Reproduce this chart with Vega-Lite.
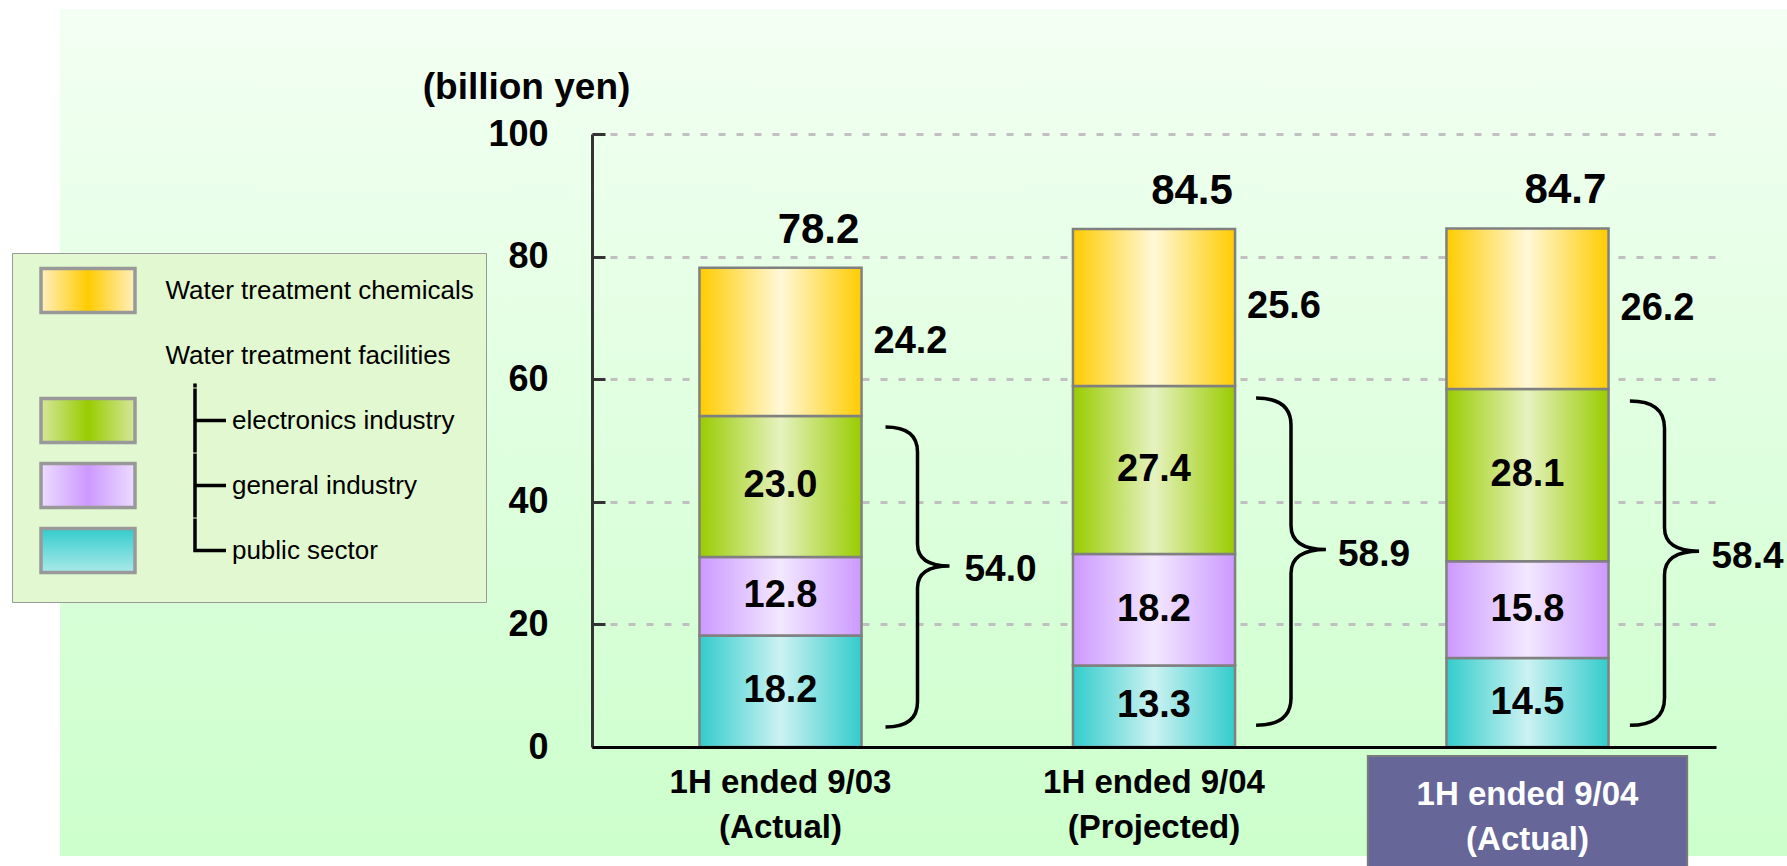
{
  "$schema": "https://vega.github.io/schema/vega-lite/v6.json",
  "width": 1727,
  "height": 847,
  "autosize": {"type": "none"},
  "padding": {"left": 60, "top": 9, "right": 0, "bottom": 10},
  "background": "#ffffff",
  "config": {
    "font": "Liberation Sans",
    "view": {
      "stroke": null,
      "fill": {"gradient": "linear", "x1": 0, "y1": 0, "x2": 0, "y2": 1, "stops": [{"offset": 0, "color": "#f3fff3"}, {"offset": 1, "color": "#ccffcc"}]}
    }
  },
  "datasets": {
    "segments": [
      {"period": "1H ended 9/03 (Actual)", "segment": "public sector", "value": 18.2},
      {"period": "1H ended 9/03 (Actual)", "segment": "general industry", "value": 12.8},
      {"period": "1H ended 9/03 (Actual)", "segment": "electronics industry", "value": 23.0},
      {"period": "1H ended 9/03 (Actual)", "segment": "Water treatment chemicals", "value": 24.2},
      {"period": "1H ended 9/04 (Projected)", "segment": "public sector", "value": 13.3},
      {"period": "1H ended 9/04 (Projected)", "segment": "general industry", "value": 18.2},
      {"period": "1H ended 9/04 (Projected)", "segment": "electronics industry", "value": 27.4},
      {"period": "1H ended 9/04 (Projected)", "segment": "Water treatment chemicals", "value": 25.6},
      {"period": "1H ended 9/04 (Actual)", "segment": "public sector", "value": 14.5},
      {"period": "1H ended 9/04 (Actual)", "segment": "general industry", "value": 15.8},
      {"period": "1H ended 9/04 (Actual)", "segment": "electronics industry", "value": 28.1},
      {"period": "1H ended 9/04 (Actual)", "segment": "Water treatment chemicals", "value": 26.2}
    ],
    "totals": [
      {"period": "1H ended 9/03 (Actual)", "total": 78.2, "facilities": 54.0},
      {"period": "1H ended 9/04 (Projected)", "total": 84.5, "facilities": 58.9},
      {"period": "1H ended 9/04 (Actual)", "total": 84.7, "facilities": 58.4}
    ],
    "legendItems": [
      {"item": "Water treatment chemicals"},
      {"item": "Water treatment facilities"},
      {"item": "electronics industry"},
      {"item": "general industry"},
      {"item": "public sector"}
    ],
    "treeBranches": [
      {"branch": "none"},
      {"branch": "root"},
      {"branch": "tee1"},
      {"branch": "tee2"},
      {"branch": "corner"}
    ],
    "highlight": [
      {"period": "1H ended 9/04 (Actual)"}
    ]
  },
  "encoding": {
    "x": {
      "field": "period",
      "type": "nominal",
      "scale": {
        "type": "band",
        "domain": ["1H ended 9/03 (Actual)", "1H ended 9/04 (Projected)", "1H ended 9/04 (Actual)"],
        "range": [532, 1656],
        "paddingInner": 0.566,
        "paddingOuter": 0.2877
      },
      "axis": {
        "orient": "bottom",
        "offset": -109,
        "title": null,
        "ticks": false,
        "grid": false,
        "domainColor": "#000000",
        "domainWidth": 3,
        "labelAngle": 0,
        "labelExpr": "[slice(datum.label, 0, indexof(datum.label, ' (')), slice(datum.label, indexof(datum.label, ' (') + 1)]",
        "labelFontSize": 33,
        "labelFontWeight": "bold",
        "labelLineHeight": 45,
        "labelLimit": 600,
        "labelPadding": {"condition": {"test": "datum.value === '1H ended 9/04 (Actual)'", "value": 31}, "value": 19},
        "labelColor": {"condition": {"test": "datum.value === '1H ended 9/04 (Actual)'", "value": "#ffffff"}, "value": "#000000"},
        "zindex": 1
      }
    }
  },
  "layer": [
    {
      "data": {"name": "legendItems"},
      "mark": {"type": "point", "filled": true, "size": 0, "opacity": 1, "strokeWidth": 3.5},
      "encoding": {
        "fill": {
          "field": "item",
          "type": "nominal",
          "scale": {
            "domain": ["Water treatment chemicals", "Water treatment facilities", "electronics industry", "general industry", "public sector"],
            "range": [
              {"signal": "{gradient: 'linear', x1: 0, y1: 0, x2: 1, y2: 0, stops: [{offset: 0, color: '#ffefbf'}, {offset: 0.5, color: '#ffcc00'}, {offset: 1, color: '#ffefbf'}]}"},
              "transparent",
              {"signal": "{gradient: 'linear', x1: 0, y1: 0, x2: 1, y2: 0, stops: [{offset: 0, color: '#d5e79c'}, {offset: 0.5, color: '#99cc00'}, {offset: 1, color: '#d5e79c'}]}"},
              {"signal": "{gradient: 'linear', x1: 0, y1: 0, x2: 1, y2: 0, stops: [{offset: 0, color: '#ecdcff'}, {offset: 0.5, color: '#cc99ff'}, {offset: 1, color: '#ecdcff'}]}"},
              {"signal": "{gradient: 'linear', x1: 0, y1: 0, x2: 0, y2: 1, stops: [{offset: 0, color: '#33cccc'}, {offset: 1, color: '#c6f0f0'}]}"}
            ]
          },
          "legend": {
            "title": null,
            "orient": "none",
            "legendX": -48,
            "legendY": 244,
            "padding": 12,
            "rowPadding": -14.5,
            "symbolType": "M-2,-0.936L2,-0.936L2,0.936L-2,0.936ZM0,-1.3617M0,1.3617",
            "symbolSize": 2209,
            "symbolOffset": 38.5,
            "symbolStrokeWidth": 3.5,
            "symbolOpacity": 1,
            "labelOffset": 52,
            "labelFontSize": 26,
            "labelFont": "Liberation Sans",
            "labelColor": "#000000",
            "labelLimit": 600,
            "fillColor": "#e2f8d0",
            "strokeColor": "#999999",
            "labelExpr": "indexof(datum.label, 'Water') === 0 ? datum.label : '\u200b\u2003\u2003\u00a0\u00a0' + datum.label"
          }
        },
        "stroke": {
          "field": "item",
          "type": "nominal",
          "scale": {
            "domain": ["Water treatment chemicals", "Water treatment facilities", "electronics industry", "general industry", "public sector"],
            "range": ["#999999", "transparent", "#999999", "#999999", "#999999"]
          },
          "legend": {
            "title": null,
            "orient": "none",
            "legendX": -48,
            "legendY": 244,
            "padding": 12,
            "rowPadding": -14.5,
            "symbolType": "M-2,-0.936L2,-0.936L2,0.936L-2,0.936ZM0,-1.3617M0,1.3617",
            "symbolSize": 2209,
            "symbolOffset": 38.5,
            "symbolStrokeWidth": 3.5,
            "symbolOpacity": 1,
            "labelOffset": 52,
            "labelFontSize": 26,
            "labelFont": "Liberation Sans",
            "labelColor": "#000000",
            "labelLimit": 600,
            "fillColor": "#e2f8d0",
            "strokeColor": "#999999",
            "labelExpr": "indexof(datum.label, 'Water') === 0 ? datum.label : '\u200b\u2003\u2003\u00a0\u00a0' + datum.label"
          }
        }
      }
    },
    {
      "data": {"name": "treeBranches"},
      "mark": {"type": "point", "filled": false, "size": 0, "opacity": 1, "stroke": "#000000", "strokeWidth": 3.5},
      "encoding": {
        "shape": {
          "field": "branch",
          "type": "nominal",
          "scale": {
            "domain": ["none", "root", "tee1", "tee2", "corner"],
            "range": [
              "M-2,-1.3617M-2,1.3617",
              "M-2,-1.3617M-2,1.3617M4.553,1.19L4.553,1.3617",
              "M-2,-1.3617M-2,1.3617M4.553,-1.3617L4.553,1.3617M4.553,0L5.872,0",
              "M-2,-1.3617M-2,1.3617M4.553,-1.3617L4.553,1.3617M4.553,0L5.872,0",
              "M-2,-1.3617M-2,1.3617M4.553,-1.3617L4.553,0L5.872,0"
            ]
          },
          "legend": {
            "title": null,
            "orient": "none",
            "legendX": -48,
            "legendY": 244,
            "padding": 12,
            "rowPadding": -14.5,
            "symbolSize": 2209,
            "symbolOffset": 38.5,
            "symbolStrokeWidth": 3.5,
            "symbolStrokeColor": "#000000",
            "symbolFillColor": "transparent",
            "symbolOpacity": 1,
            "labelOpacity": 0,
            "labelFontSize": 10,
            "fillColor": null,
            "strokeColor": null
          }
        }
      }
    },
    {
      "data": {"name": "highlight"},
      "mark": {"type": "bar", "fill": "#666699", "stroke": "#7a7a7a", "strokeWidth": 2, "width": {"band": 1.97}},
      "encoding": {
        "y": {"datum": -1.47, "type": "quantitative", "scale": {"domain": [0, 100], "range": [738, 125], "nice": false},
          "axis": {"orient": "left", "offset": -532, "values": [0, 20, 40, 60, 80, 100], "title": "(billion yen)", "titleAngle": 0, "titleX": -66, "titleY": 78, "titleAlign": "center", "titleBaseline": "middle", "titleFontSize": 37, "titleFontWeight": "bold", "titleColor": "#000000", "labelFontSize": 36, "labelFontWeight": "bold", "labelColor": "#000000", "labelPadding": 57, "tickSize": -13, "tickWidth": 3, "tickColor": "#333333", "domainColor": "#333333", "domainWidth": 3, "grid": true, "gridColor": "#c0c0c0", "gridDash": [7, 11], "gridWidth": 3, "zindex": 0}},
        "y2": {"datum": -25}
      }
    },
    {
      "data": {"name": "segments"},
      "mark": {"type": "bar", "stroke": "#808080", "strokeWidth": 2.5},
      "encoding": {
        "y": {
          "field": "value",
          "type": "quantitative",
          "stack": "zero",
          "scale": {"domain": [0, 100], "range": [738, 125], "nice": false},
          "axis": {"orient": "left", "offset": -532, "values": [0, 20, 40, 60, 80, 100], "title": "(billion yen)", "titleAngle": 0, "titleX": -66, "titleY": 78, "titleAlign": "center", "titleBaseline": "middle", "titleFontSize": 37, "titleFontWeight": "bold", "titleColor": "#000000", "labelFontSize": 36, "labelFontWeight": "bold", "labelColor": "#000000", "labelPadding": 57, "tickSize": -13, "tickWidth": 3, "tickColor": "#333333", "domainColor": "#333333", "domainWidth": 3, "grid": true, "gridColor": "#c0c0c0", "gridDash": [7, 11], "gridWidth": 3, "zindex": 0}
        },
        "detail": {"field": "segment", "type": "nominal"},
        "order": {"field": "segment", "sort": "descending"},
        "fill": {
          "condition": [
            {"test": "datum.segment === 'public sector'", "value": {"gradient": "linear", "x1": 0, "y1": 0, "x2": 1, "y2": 0, "stops": [{"offset": 0, "color": "#33cccc"}, {"offset": 0.5, "color": "#ccf2f2"}, {"offset": 1, "color": "#33cccc"}]}},
            {"test": "datum.segment === 'general industry'", "value": {"gradient": "linear", "x1": 0, "y1": 0, "x2": 1, "y2": 0, "stops": [{"offset": 0, "color": "#cc99ff"}, {"offset": 0.5, "color": "#f3e8ff"}, {"offset": 1, "color": "#cc99ff"}]}},
            {"test": "datum.segment === 'electronics industry'", "value": {"gradient": "linear", "x1": 0, "y1": 0, "x2": 1, "y2": 0, "stops": [{"offset": 0, "color": "#99cc00"}, {"offset": 0.5, "color": "#e6f2c0"}, {"offset": 1, "color": "#99cc00"}]}}
          ],
          "value": {"gradient": "linear", "x1": 0, "y1": 0, "x2": 1, "y2": 0, "stops": [{"offset": 0, "color": "#ffcc00"}, {"offset": 0.5, "color": "#fff8d8"}, {"offset": 1, "color": "#ffcc00"}]}
        }
      }
    },
    {
      "data": {"name": "segments"},
      "mark": {"type": "text", "fontSize": 38, "fontWeight": "bold", "color": "#000000", "align": "center", "baseline": "middle"},
      "encoding": {
        "y": {"field": "value", "type": "quantitative", "stack": "zero", "bandPosition": 0.5, "scale": {"domain": [0, 100], "range": [738, 125], "nice": false},
          "axis": {"orient": "left", "offset": -532, "values": [0, 20, 40, 60, 80, 100], "title": "(billion yen)", "titleAngle": 0, "titleX": -66, "titleY": 78, "titleAlign": "center", "titleBaseline": "middle", "titleFontSize": 37, "titleFontWeight": "bold", "titleColor": "#000000", "labelFontSize": 36, "labelFontWeight": "bold", "labelColor": "#000000", "labelPadding": 57, "tickSize": -13, "tickWidth": 3, "tickColor": "#333333", "domainColor": "#333333", "domainWidth": 3, "grid": true, "gridColor": "#c0c0c0", "gridDash": [7, 11], "gridWidth": 3, "zindex": 0}},
        "detail": {"field": "segment", "type": "nominal"},
        "order": {"field": "segment", "sort": "descending"},
        "text": {"condition": {"test": "datum.segment === 'Water treatment chemicals'", "value": ""}, "field": "value", "type": "quantitative", "format": ".1f"}
      }
    },
    {
      "data": {"name": "segments"},
      "mark": {"type": "text", "fontSize": 38, "fontWeight": "bold", "color": "#000000", "align": "left", "baseline": "middle", "dx": 93},
      "encoding": {
        "y": {"field": "value", "type": "quantitative", "stack": "zero", "bandPosition": 0.5, "scale": {"domain": [0, 100], "range": [738, 125], "nice": false},
          "axis": {"orient": "left", "offset": -532, "values": [0, 20, 40, 60, 80, 100], "title": "(billion yen)", "titleAngle": 0, "titleX": -66, "titleY": 78, "titleAlign": "center", "titleBaseline": "middle", "titleFontSize": 37, "titleFontWeight": "bold", "titleColor": "#000000", "labelFontSize": 36, "labelFontWeight": "bold", "labelColor": "#000000", "labelPadding": 57, "tickSize": -13, "tickWidth": 3, "tickColor": "#333333", "domainColor": "#333333", "domainWidth": 3, "grid": true, "gridColor": "#c0c0c0", "gridDash": [7, 11], "gridWidth": 3, "zindex": 0}},
        "detail": {"field": "segment", "type": "nominal"},
        "order": {"field": "segment", "sort": "descending"},
        "text": {"condition": {"test": "datum.segment !== 'Water treatment chemicals'", "value": ""}, "field": "value", "type": "quantitative", "format": ".1f"}
      }
    },
    {
      "data": {"name": "totals"},
      "mark": {"type": "text", "fontSize": 42, "fontWeight": "bold", "color": "#000000", "align": "center", "baseline": "middle", "dx": 38, "dy": -38},
      "encoding": {
        "y": {"field": "total", "type": "quantitative", "scale": {"domain": [0, 100], "range": [738, 125], "nice": false},
          "axis": {"orient": "left", "offset": -532, "values": [0, 20, 40, 60, 80, 100], "title": "(billion yen)", "titleAngle": 0, "titleX": -66, "titleY": 78, "titleAlign": "center", "titleBaseline": "middle", "titleFontSize": 37, "titleFontWeight": "bold", "titleColor": "#000000", "labelFontSize": 36, "labelFontWeight": "bold", "labelColor": "#000000", "labelPadding": 57, "tickSize": -13, "tickWidth": 3, "tickColor": "#333333", "domainColor": "#333333", "domainWidth": 3, "grid": true, "gridColor": "#c0c0c0", "gridDash": [7, 11], "gridWidth": 3, "zindex": 0}},
        "text": {"field": "total", "type": "quantitative", "format": ".1f"}
      }
    },
    {
      "data": {"name": "totals"},
      "mark": {"type": "point", "shape": "M-0.32,-0.2Q0,-0.2 0,-0.45L0,-1.59Q0,-1.81 0.32,-1.81Q0,-1.81 0,-2.03L0,-2.95Q0,-3.2 -0.32,-3.2", "filled": false, "stroke": "#000000", "strokeWidth": 3.5, "opacity": 1, "xOffset": 137},
      "encoding": {
        "y": {"datum": 0, "type": "quantitative", "scale": {"domain": [0, 100], "range": [738, 125], "nice": false},
          "axis": {"orient": "left", "offset": -532, "values": [0, 20, 40, 60, 80, 100], "title": "(billion yen)", "titleAngle": 0, "titleX": -66, "titleY": 78, "titleAlign": "center", "titleBaseline": "middle", "titleFontSize": 37, "titleFontWeight": "bold", "titleColor": "#000000", "labelFontSize": 36, "labelFontWeight": "bold", "labelColor": "#000000", "labelPadding": 57, "tickSize": -13, "tickWidth": 3, "tickColor": "#333333", "domainColor": "#333333", "domainWidth": 3, "grid": true, "gridColor": "#c0c0c0", "gridDash": [7, 11], "gridWidth": 3, "zindex": 0}},
        "size": {"field": "facilities", "type": "quantitative", "scale": {"type": "pow", "exponent": 2, "domain": [0, 100], "range": [0, 137200]}, "legend": null}
      }
    },
    {
      "data": {"name": "totals"},
      "mark": {"type": "text", "fontSize": 37, "fontWeight": "bold", "color": "#000000", "align": "left", "baseline": "middle", "dx": 184, "dy": -11},
      "encoding": {
        "y": {"field": "facilities", "type": "quantitative", "stack": "zero", "bandPosition": 0.5, "scale": {"domain": [0, 100], "range": [738, 125], "nice": false},
          "axis": {"orient": "left", "offset": -532, "values": [0, 20, 40, 60, 80, 100], "title": "(billion yen)", "titleAngle": 0, "titleX": -66, "titleY": 78, "titleAlign": "center", "titleBaseline": "middle", "titleFontSize": 37, "titleFontWeight": "bold", "titleColor": "#000000", "labelFontSize": 36, "labelFontWeight": "bold", "labelColor": "#000000", "labelPadding": 57, "tickSize": -13, "tickWidth": 3, "tickColor": "#333333", "domainColor": "#333333", "domainWidth": 3, "grid": true, "gridColor": "#c0c0c0", "gridDash": [7, 11], "gridWidth": 3, "zindex": 0}},
        "text": {"field": "facilities", "type": "quantitative", "format": ".1f"}
      }
    }
  ]
}
